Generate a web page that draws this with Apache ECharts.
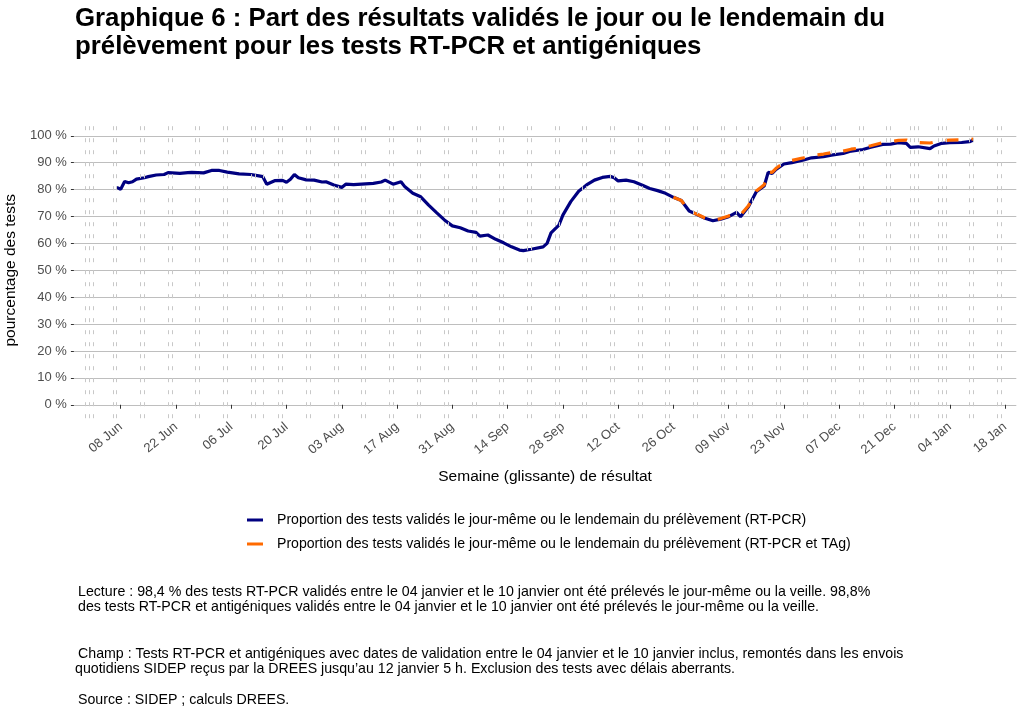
<!DOCTYPE html>
<html><head><meta charset="utf-8">
<script src="https://cdn.jsdelivr.net/npm/echarts@6/dist/echarts.min.js"></script>
<style>html,body{margin:0;padding:0;background:#fff}#c{width:1024px;height:717px}</style>
</head><body><div id="c"></div>
<script>
// ---- data ----
const pcrDates = ['2020-06-07','2020-06-08','2020-06-09','2020-06-10','2020-06-11','2020-06-12','2020-06-14','2020-06-15','2020-06-17','2020-06-19','2020-06-20','2020-06-23','2020-06-25','2020-06-26','2020-06-29','2020-07-01','2020-07-03','2020-07-05','2020-07-08','2020-07-11','2020-07-13','2020-07-14','2020-07-15','2020-07-17','2020-07-19','2020-07-20','2020-07-21','2020-07-22','2020-07-23','2020-07-25','2020-07-27','2020-07-29','2020-07-30','2020-08-01','2020-08-03','2020-08-04','2020-08-06','2020-08-08','2020-08-11','2020-08-13','2020-08-14','2020-08-16','2020-08-18','2020-08-19','2020-08-21','2020-08-23','2020-08-25','2020-08-27','2020-08-29','2020-08-31','2020-09-02','2020-09-04','2020-09-06','2020-09-07','2020-09-09','2020-09-11','2020-09-13','2020-09-15','2020-09-17','2020-09-18','2020-09-20','2020-09-23','2020-09-24','2020-09-25','2020-09-27','2020-09-28','2020-09-30','2020-10-02','2020-10-04','2020-10-06','2020-10-08','2020-10-10','2020-10-11','2020-10-12','2020-10-14','2020-10-16','2020-10-18','2020-10-20','2020-10-22','2020-10-24','2020-10-26','2020-10-28','2020-10-29','2020-10-30','2020-11-01','2020-11-03','2020-11-05','2020-11-07','2020-11-09','2020-11-11','2020-11-12','2020-11-14','2020-11-16','2020-11-18','2020-11-19','2020-11-20','2020-11-21','2020-11-23','2020-11-25','2020-11-28','2020-11-30','2020-12-03','2020-12-05','2020-12-08','2020-12-10','2020-12-13','2020-12-15','2020-12-18','2020-12-20','2020-12-22','2020-12-24','2020-12-25','2020-12-27','2020-12-30','2020-12-31','2021-01-02','2021-01-04','2021-01-07','2021-01-09','2021-01-10'];
const pcrValues = [80.8,80.1,83.0,82.5,82.9,83.9,84.4,84.8,85.4,85.6,86.3,86.0,86.3,86.4,86.2,87.1,87.1,86.5,85.8,85.6,85.1,84.8,82.0,83.3,83.4,82.7,83.8,85.6,84.4,83.6,83.5,82.8,82.9,81.7,80.8,82.0,81.8,82.0,82.3,82.8,83.5,82.0,82.9,81.0,78.6,77.3,74.2,71.4,68.7,66.5,65.8,64.6,64.1,62.7,63.1,61.5,60.2,58.7,57.5,57.3,57.8,58.7,60.0,63.9,66.8,70.5,75.5,79.4,81.7,83.5,84.5,84.9,84.4,83.2,83.5,82.9,81.7,80.4,79.6,78.6,77.1,75.9,74.0,72.0,70.7,69.3,68.4,69.0,69.9,71.5,69.9,73.6,79.2,81.3,86.4,86.0,87.5,89.5,90.0,91.0,91.8,92.2,92.8,93.4,94.3,94.9,95.7,96.8,96.9,97.4,97.2,95.7,95.9,95.2,96.2,97.2,97.4,97.5,97.8,98.4];

const tagDates = ['2020-10-26','2020-10-28','2020-10-29','2020-10-30','2020-11-01','2020-11-03','2020-11-05','2020-11-07','2020-11-09','2020-11-11','2020-11-12','2020-11-14','2020-11-16','2020-11-18','2020-11-19','2020-11-20','2020-11-21','2020-11-23','2020-11-25','2020-11-28','2020-11-30','2020-12-03','2020-12-05','2020-12-08','2020-12-10','2020-12-13','2020-12-15','2020-12-18','2020-12-20','2020-12-22','2020-12-24','2020-12-25','2020-12-27','2020-12-30','2020-12-31','2021-01-02','2021-01-04','2021-01-07','2021-01-09','2021-01-10'];
const tagValues = [77.1,75.9,74.0,72.0,70.8,69.4,68.6,69.2,70.2,71.0,70.6,74.0,79.5,81.8,86.6,86.4,87.9,90.0,90.8,91.8,92.6,93.2,93.7,94.3,95.0,95.6,96.3,97.4,97.8,98.3,98.4,97.8,97.5,97.3,97.6,98.2,98.4,98.5,98.6,98.8];

// weekend days (Sat/Sun) and public holidays drawn as dashed vertical lines
const weekendDays = ['2020-05-30','2020-05-31','2020-06-06','2020-06-07','2020-06-13','2020-06-14','2020-06-20','2020-06-21','2020-06-27','2020-06-28','2020-07-04','2020-07-05','2020-07-11','2020-07-12','2020-07-18','2020-07-19','2020-07-25','2020-07-26','2020-08-01','2020-08-02','2020-08-08','2020-08-09','2020-08-15','2020-08-16','2020-08-22','2020-08-23','2020-08-29','2020-08-30','2020-09-05','2020-09-06','2020-09-12','2020-09-13','2020-09-19','2020-09-20','2020-09-26','2020-09-27','2020-10-03','2020-10-04','2020-10-10','2020-10-11','2020-10-17','2020-10-18','2020-10-24','2020-10-25','2020-10-31','2020-11-01','2020-11-07','2020-11-08','2020-11-14','2020-11-15','2020-11-21','2020-11-22','2020-11-28','2020-11-29','2020-12-05','2020-12-06','2020-12-12','2020-12-13','2020-12-19','2020-12-20','2020-12-26','2020-12-27','2021-01-02','2021-01-03','2021-01-09','2021-01-10','2021-01-16','2021-01-17'];
const holidays = ['2020-06-01','2020-07-14','2020-11-11','2020-12-25','2021-01-01'];

const xTickDates = ['2020-06-08','2020-06-22','2020-07-06','2020-07-20','2020-08-03','2020-08-17','2020-08-31','2020-09-14','2020-09-28','2020-10-12','2020-10-26','2020-11-09','2020-11-23','2020-12-07','2020-12-21','2021-01-04','2021-01-18'];
const yTicks = [0,10,20,30,40,50,60,70,80,90,100];
const monthNames = ['Jan','Feb','Mar','Apr','May','Jun','Jul','Aug','Sep','Oct','Nov','Dec'];

const nameA = 'Proportion des tests validés le jour-même ou le lendemain du prélèvement (RT-PCR)';
const nameB = 'Proportion des tests validés le jour-même ou le lendemain du prélèvement (RT-PCR et TAg)';

// ---- helpers ----
function ts(s){const p=s.split('-');return Date.UTC(+p[0],+p[1]-1,+p[2]);}
const DAY = 864e5;
const FONT = 'Liberation Sans, Arial, sans-serif';
const xTicks = xTickDates.map(ts);
function fmtDate(v){const d=new Date(v);const dd=d.getUTCDate();return (dd<10?'0':'')+dd+' '+monthNames[d.getUTCMonth()];}

const chart = echarts.init(document.getElementById('c'), null, {renderer:'canvas'});
const vlines = weekendDays.concat(holidays).map(d=>({xAxis: ts(d)}));

const foot = [
  {t:'Lecture : 98,4 % des tests RT-PCR validés entre le 04 janvier et le 10 janvier ont été prélevés le jour-même ou la veille. 98,8%', x:78, y:593},
  {t:'des tests RT-PCR et antigéniques validés entre le 04 janvier et le 10 janvier ont été prélevés le jour-même ou la veille.', x:78, y:608},
  {t:'Champ : Tests RT-PCR et antigéniques avec dates de validation entre le 04 janvier et le 10 janvier inclus, remontés dans les envois', x:78, y:655},
  {t:'quotidiens SIDEP reçus par la DREES jusqu\u2019au 12 janvier 5 h. Exclusion des tests avec délais aberrants.', x:75, y:670},
  {t:'Source : SIDEP ; calculs DREES.', x:78, y:701}
];

chart.setOption({
  animation:false,
  backgroundColor:'#fff',
  textStyle:{fontFamily:FONT},
  title:{
    text:'Graphique 6 : Part des résultats validés le jour ou le lendemain du\nprélèvement pour les tests RT-PCR et antigéniques',
    left:75, top:5, padding:0,
    textStyle:{fontSize:25.8, fontWeight:'bold', color:'#000', lineHeight:28, fontFamily:FONT}
  },
  grid:{left:73.9, right:7.7, top:122.3, height:295.9, containLabel:false, outerBoundsMode:'none'},
  xAxis:{
    type:'value',
    min: ts('2020-05-27')+0.15*DAY,
    max: ts('2021-01-20')+0.85*DAY,
    axisLine:{show:false},
    axisTick:{show:true, customValues:xTicks, length:4, lineStyle:{color:'#333', width:1}},
    axisLabel:{customValues:xTicks, rotate:40, formatter:fmtDate, color:'#4d4d4d', fontSize:13, margin:7, fontFamily:FONT},
    splitLine:{show:false},
    name:'Semaine (glissante) de résultat', nameLocation:'middle', nameGap:51,
    nameTextStyle:{fontSize:15.5, color:'#000', fontFamily:FONT}
  },
  yAxis:{
    type:'value', min:-5, max:105,
    axisLine:{show:false},
    axisTick:{show:true, customValues:yTicks, length:3, lineStyle:{color:'#333', width:1}},
    axisLabel:{customValues:yTicks, formatter:v=>v+' %', color:'#4d4d4d', fontSize:13, margin:7, fontFamily:FONT},
    splitLine:{show:true, lineStyle:{color:'#bebebe', width:1.2}},
    name:'pourcentage des tests', nameLocation:'middle', nameGap:50, nameRotate:90,
    nameTextStyle:{fontSize:15.5, color:'#000', fontFamily:FONT}
  },
  legend:{
    orient:'vertical', left:247, top:512, padding:0, itemWidth:16, itemHeight:3, itemGap:8, icon:'rect',
    textStyle:{fontSize:14.1, color:'#000', padding:[0,0,0,9], lineHeight:16, fontFamily:FONT},
    data:[nameA, nameB]
  },
  series:[
    {name:nameA, type:'line', z:3, showSymbol:false, symbol:'none', color:'#000080',
     lineStyle:{color:'#000080', width:3.2},
     data: pcrDates.map((d,i)=>[ts(d), pcrValues[i]])},
    {name:nameB, type:'line', z:4, showSymbol:false, symbol:'none', color:'#ff6a00',
     lineStyle:{color:'#ff6a00', width:3.2, type:[13,13]},
     data: tagDates.map((d,i)=>[ts(d), tagValues[i]])},
    {name:'vlines', type:'line', z:6, data:[], silent:true,
     markLine:{silent:true, symbol:['none','none'], label:{show:false}, animation:false,
       lineStyle:{color:'#c8c8c8', width:1, type:[4,8]}, emphasis:{disabled:true},
       data: vlines}}
  ],
  graphic: foot.map(f=>({type:'text', left:f.x, top:f.y-8, silent:true,
    style:{text:f.t, fontSize:14.2, fontFamily:FONT, fill:'#000'}}))
});
</script></body></html>
